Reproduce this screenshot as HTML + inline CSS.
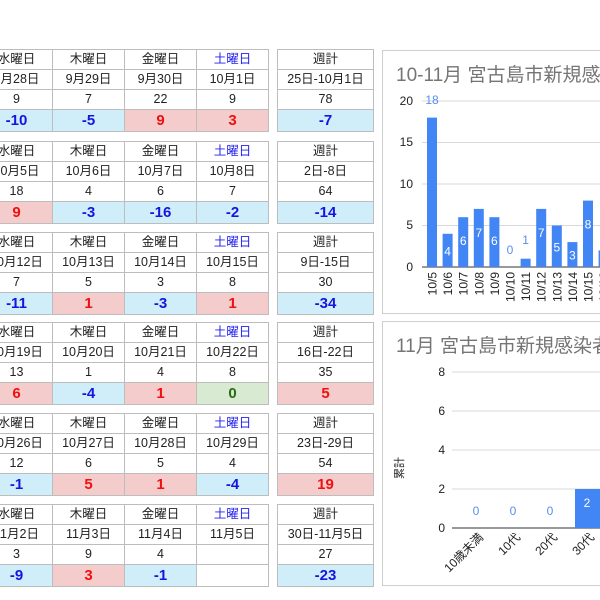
<!DOCTYPE html>
<html><head><meta charset="utf-8"><style>
body{margin:0;width:600px;height:600px;overflow:hidden;background:#fff;font-family:"Liberation Sans","Noto Sans CJK JP",sans-serif;position:relative}
table{position:absolute;border-collapse:collapse;table-layout:fixed}
td{border:1px solid #bdbdbd;text-align:center;font-size:12.5px;color:#222;padding:0;height:19px;line-height:19px;white-space:nowrap;overflow:hidden}
tr.v td{height:21px;font-size:15px;font-weight:bold}
.b{color:#1515e0}.r{color:#f01010}.g{color:#2b6b12}
.bb{background:#d0eef9}.pp{background:#f4cccc}.gg{background:#d9ead3}
.sat{color:#2222ee}
.box{position:absolute;border:1px solid #cfcfcf;background:#fff}
</style></head><body>
<div id="t"></div>
<div class="box" style="left:382px;top:50px;width:230px;height:262px"></div>
<div class="box" style="left:382px;top:321px;width:230px;height:263px"></div>
<svg style="position:absolute;left:0;top:0" width="600" height="600" font-family="Liberation Sans, Noto Sans CJK JP, sans-serif">
<text x="396" y="81" font-size="19" fill="#757575">10-11月 宮古島市新規感染者</text>
<g stroke="#d9d9d9" stroke-width="1">
<line x1="422" x2="600" y1="101" y2="101"/><line x1="422" x2="600" y1="142.5" y2="142.5"/><line x1="422" x2="600" y1="184" y2="184"/><line x1="422" x2="600" y1="225.5" y2="225.5"/></g>
<line x1="422" x2="600" y1="267" y2="267" stroke="#333"/>
<g font-size="12" fill="#222" text-anchor="end"><text x="413" y="105">20</text><text x="413" y="146">15</text><text x="413" y="188">10</text><text x="413" y="229">5</text><text x="413" y="271">0</text></g>
<g id="c1"></g>
<text x="396" y="352" font-size="19" fill="#757575">11月 宮古島市新規感染者</text>
<g stroke="#d9d9d9"><line x1="452" x2="600" y1="372" y2="372"/><line x1="452" x2="600" y1="411" y2="411"/><line x1="452" x2="600" y1="450" y2="450"/><line x1="452" x2="600" y1="489" y2="489"/></g>
<line x1="452" x2="600" y1="528" y2="528" stroke="#333"/>
<g font-size="12" fill="#222" text-anchor="end"><text x="445" y="376">8</text><text x="445" y="415">6</text><text x="445" y="454">4</text><text x="445" y="493">2</text><text x="445" y="532">0</text></g>
<text transform="translate(403,468) rotate(-90)" font-size="11" fill="#222" text-anchor="middle">累計</text>
<rect x="575" y="489" width="25" height="39" fill="#4285f4"/>
<g font-size="12" fill="#5a8ef0" text-anchor="middle"><text x="476" y="515">0</text><text x="513" y="515">0</text><text x="550" y="515">0</text><text x="587" y="507" fill="#fff">2</text></g>
<g font-size="12" fill="#222" text-anchor="end">
<text transform="translate(484,538) rotate(-45)">10歳未満</text>
<text transform="translate(521,538) rotate(-45)">10代</text>
<text transform="translate(558,538) rotate(-45)">20代</text>
<text transform="translate(595,538) rotate(-45)">30代</text></g>
</svg>
<script>
var T=[
[["9月28日","9月29日","9月30日","10月1日","25日-10月1日"],["9","7","22","9","78"],[["-10","b"],["-5","b"],["9","r"],["3","r"],["-7","b"]]],
[["10月5日","10月6日","10月7日","10月8日","2日-8日"],["18","4","6","7","64"],[["9","r"],["-3","b"],["-16","b"],["-2","b"],["-14","b"]]],
[["10月12日","10月13日","10月14日","10月15日","9日-15日"],["7","5","3","8","30"],[["-11","b"],["1","r"],["-3","b"],["1","r"],["-34","b"]]],
[["10月19日","10月20日","10月21日","10月22日","16日-22日"],["13","1","4","8","35"],[["6","r"],["-4","b"],["1","r"],["0","g"],["5","r"]]],
[["10月26日","10月27日","10月28日","10月29日","23日-29日"],["12","6","5","4","54"],[["-1","b"],["5","r"],["1","r"],["-4","b"],["19","r"]]],
[["11月2日","11月3日","11月4日","11月5日","30日-11月5日"],["3","9","4","","27"],[["-9","b"],["3","r"],["-1","b"],["",""],["-23","b"]]]];
var tops=[49,141,232,322,413,504],h="";
var bg={b:"bb",r:"pp",g:"gg","":""};
T.forEach(function(t,i){
 var hd=["水曜日","木曜日","金曜日","<span class='sat'>土曜日</span>"];
 var s='<table style="left:-20px;top:'+tops[i]+'px;width:289px"><colgroup><col style="width:72px"><col style="width:72px"><col style="width:72px"><col style="width:72px"></colgroup>';
 s+='<tr>'+hd.map(x=>'<td>'+x+'</td>').join('')+'</tr>';
 s+='<tr>'+t[0].slice(0,4).map(x=>'<td>'+x+'</td>').join('')+'</tr>';
 s+='<tr>'+t[1].slice(0,4).map(x=>'<td>'+x+'</td>').join('')+'</tr>';
 s+='<tr class="v">'+t[2].slice(0,4).map(x=>'<td class="'+x[1]+' '+bg[x[1]]+'">'+x[0]+'</td>').join('')+'</tr></table>';
 s+='<table style="left:277px;top:'+tops[i]+'px;width:97px"><col style="width:96px">';
 s+='<tr><td>週計</td></tr><tr><td>'+t[0][4]+'</td></tr><tr><td>'+t[1][4]+'</td></tr><tr class="v"><td class="'+t[2][4][1]+' '+bg[t[2][4][1]]+'">'+t[2][4][0]+'</td></tr></table>';
 h+=s;});
document.getElementById("t").innerHTML=h;
var d=[18,4,6,7,6,0,1,7,5,3,8,2,3],lb=["10/5","10/6","10/7","10/8","10/9","10/10","10/11","10/12","10/13","10/14","10/15","10/16","10/17"],g="";
d.forEach(function(v,i){var x=427+i*15.6,hh=v*8.3,cx=x+5;
 if(v>0)g+='<rect x="'+x+'" y="'+(267-hh)+'" width="10" height="'+hh+'" fill="#4285f4"/>';
 if(v>=2)g+='<text x="'+cx+'" y="'+(v==18?104:(267-hh+Math.min(hh/2+5,28)))+'" font-size="12" fill="'+(v==18?'#5a8ef0':'#fff')+'" text-anchor="middle">'+v+'</text>';
 else g+='<text x="'+cx+'" y="'+(v==0?254:244)+'" font-size="12" fill="#5a8ef0" text-anchor="middle">'+v+'</text>';
 g+='<text transform="translate('+(cx+4.5)+',272) rotate(-90)" font-size="12" fill="#222" text-anchor="end">'+lb[i]+'</text>';});
document.getElementById("c1").innerHTML=g;
</script>
</body></html>
